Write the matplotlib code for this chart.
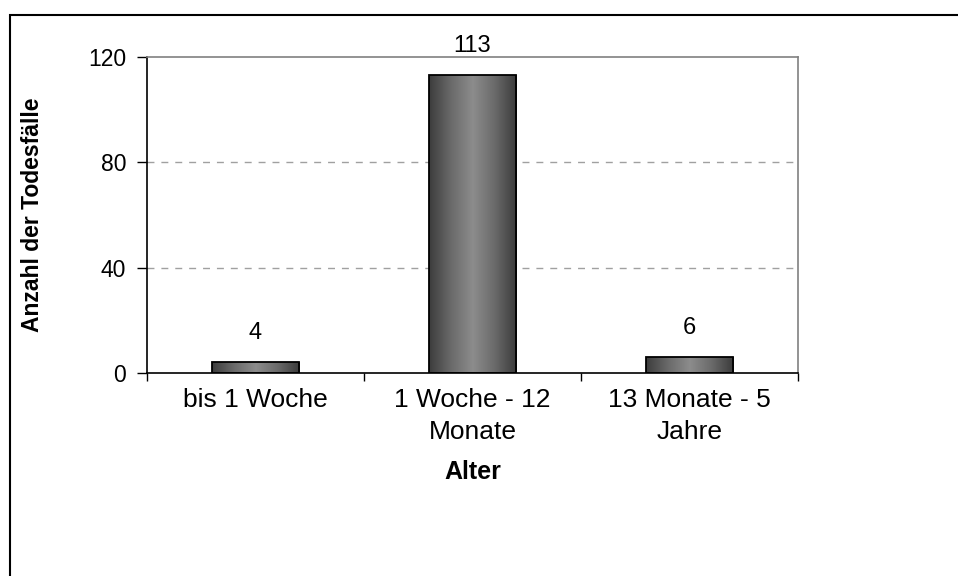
import matplotlib
matplotlib.use("Agg")
import matplotlib.pyplot as plt
import numpy as np
from matplotlib.colors import LinearSegmentedColormap
from matplotlib.patches import Rectangle

categories = ["bis 1 Woche", "1 Woche - 12\nMonate", "13 Monate - 5\nJahre"]
deaths = [4, 113, 6]
y_ticks = [0, 40, 80, 120]

plt.rcParams["font.family"] = ["Liberation Sans", "DejaVu Sans"]

W, H = 958, 576
fig = plt.figure(figsize=(W / 100, H / 100), dpi=100)
ax = fig.add_axes([147 / W, 1 - 373 / H, (798 - 147) / W, (373 - 57) / H])

# outer chart frame
fig.patches.append(Rectangle((9.5 / W, -0.1), 1.2, 1 - 14.5 / H + 0.1,
                             transform=fig.transFigure, fill=False,
                             edgecolor="black", linewidth=1.5))

x = np.arange(len(categories))
bars = ax.bar(x, deaths, width=0.405, color="none", edgecolor="black",
              linewidth=1.3, zorder=3)

cmap = LinearSegmentedColormap.from_list(
    "cyl", ["#3c3c3c", "#6a6a6a", "#8c8c8c", "#6a6a6a", "#3a3a3a"])
grad = np.linspace(0, 1, 256).reshape(1, -1)
for b in bars:
    x0, w, h = b.get_x(), b.get_width(), b.get_height()
    im = ax.imshow(grad, cmap=cmap, aspect="auto", extent=[x0, x0 + w, 0, h],
                   zorder=2)
    im.set_clip_path(b)

for xi, v in zip(x, deaths):
    ax.annotate(str(v), (xi, v), xytext=(0, 21), textcoords="offset points",
                ha="center", va="center", fontsize=17)

ax.set_xlim(-0.5, 2.5)
ax.set_ylim(0, 120)
ax.set_yticks(y_ticks)
ax.tick_params(axis="y", labelsize=16.5, length=7, width=1, direction="out", pad=8)
ax.set_xticks(x)
ax.set_xticklabels(categories, fontsize=19, linespacing=1.4)
ax.set_xticks(np.arange(-0.5, 3, 1), minor=True)
ax.tick_params(axis="x", which="major", length=0, pad=11)
ax.tick_params(axis="x", which="minor", length=5.5, width=1, direction="out")

for yv in [40, 80]:
    ax.axhline(yv, color="#a0a0a0", linestyle=(0, (5, 5)), linewidth=1, zorder=1)

ax.spines["left"].set_color("black")
ax.spines["bottom"].set_color("black")
ax.spines["top"].set_color("#808080")
ax.spines["right"].set_color("#808080")
for s in ax.spines.values():
    s.set_linewidth(1.2)

ax.set_ylabel("Anzahl der Todesfälle", fontsize=16.5, fontweight="bold")
ax.yaxis.set_label_coords((33 - 147) / (798 - 147), 0.5)
ax.set_xlabel("Alter", fontsize=18, fontweight="bold")
ax.xaxis.set_label_coords(0.5, (373 - 472) / (373 - 57))
ax.xaxis.label.set_va("center")
ax.yaxis.label.set_va("center")

fig.savefig("out.png", dpi=100, facecolor="white")
